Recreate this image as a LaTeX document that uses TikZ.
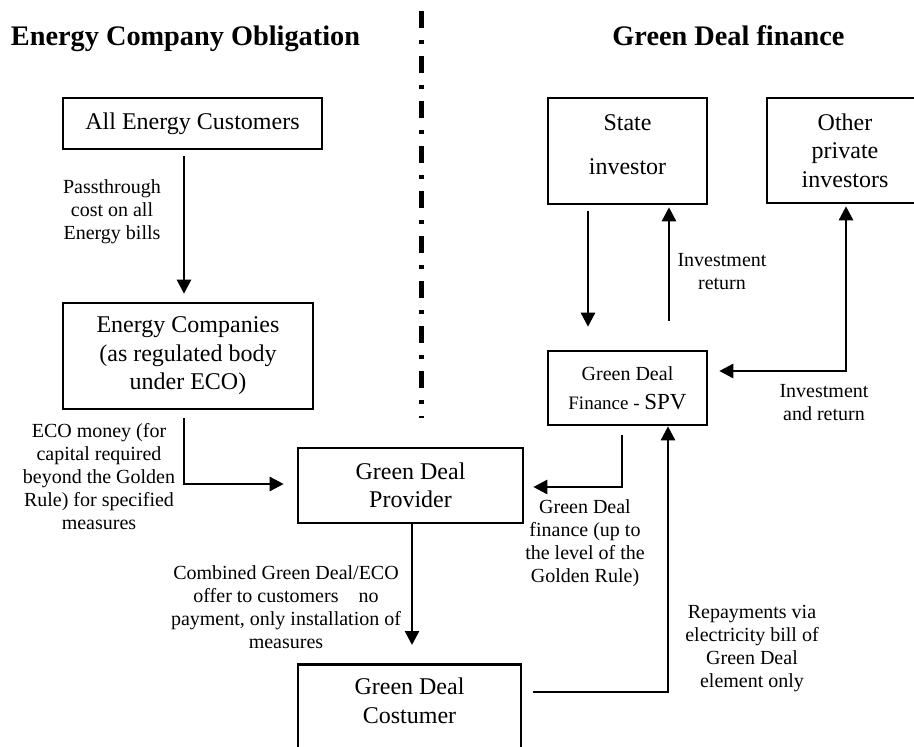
\documentclass[tikz,border=0pt]{standalone}
\usepackage{fontspec}
\setmainfont{Liberation Serif}
\usetikzlibrary{arrows.meta}
\begin{document}
\begin{tikzpicture}[x=1pt,y=-1pt,
  mytip/.tip={Triangle[length=14pt,width=14pt]},
  box/.style={draw, line width=2.6pt, inner sep=0pt, align=center, font=\fontsize{24}{28.5}\selectfont},
  boxtext/.style={inner sep=0pt, align=center, font=\fontsize{24}{28.5}\selectfont},
  lbl/.style={align=center, inner sep=0pt, font=\fontsize{20}{23}\selectfont},
  ttl/.style={inner sep=0pt, anchor=base, font=\fontsize{28.3}{33}\selectfont\bfseries},
  arr/.style={line width=2.6pt, -mytip},
  darr/.style={line width=2.6pt, mytip-mytip},
  divider/.style={line width=5pt, dash pattern=on 17pt off 12pt on 4pt off 12pt}
]
\path[fill=white, use as bounding box] (0,0) rectangle (914,747);

% titles
\node[ttl] (t1) at (185.5,45) {Energy Company Obligation};
\node[ttl] (t2) at (728.5,45) {Green Deal finance};

% divider
\coordinate (divt) at (421,11);
\coordinate (divb) at (421,418);
\draw[divider] (divt) -- (divb);

% boxes
\node[box, minimum width=259pt, minimum height=51pt] (cust) at (192.5,123.5) {All Energy Customers};
\node[box, minimum width=250pt, minimum height=106pt] (ecomp) at (188,356) {Energy Companies\\(as regulated body\\under ECO)};
\node[box, minimum width=225pt, minimum height=75pt] (prov) at (410.5,485.5) {Green Deal\\Provider};
\node[box, minimum width=223pt, minimum height=100pt, anchor=north] (costu) at (409.5,663) {};
\node[boxtext] (costut) at (409.5,701) {Green Deal\\Costumer};
\node[box, minimum width=159pt, minimum height=106pt] (state) at (627.5,151) {};
\node[boxtext] (statet) at (627.5,145) {State\\[15.5pt]investor};
\node[box, minimum width=156pt, minimum height=105pt] (other) at (845,150.5) {Other\\private\\investors};
\node[box, minimum width=159pt, minimum height=74pt] (spv) at (627.5,388) {\fontsize{20}{27}\selectfont Green Deal\\\fontsize{19}{27}\selectfont Finance - {\fontsize{23}{27}\selectfont SPV}};

% labels
\node[lbl] (l1) at (112,212) {Passthrough\\cost on all\\Energy bills};
\node[lbl] (l2) at (99,476.5) {ECO money (for\\capital required\\beyond the Golden\\Rule) for specified\\measures};
\node[lbl] (l3) at (286,607.5) {Combined Green Deal/ECO\\offer to customers\hspace{1em}no\\payment, only installation of\\measures};
\node[lbl] (l4) at (722,272) {Investment\\return};
\node[lbl] (l5) at (824,402.5) {Investment\\and return};
\node[lbl] (l6) at (585,543) {Green Deal\\finance (up to\\the level of the\\Golden Rule)};
\node[lbl] (l7) at (752,649) {Repayments via\\electricity bill of\\Green Deal\\element only};

% connectors
\draw[arr, shorten <=6pt, shorten >=8pt] (cust.south -| 184,0) -- (ecomp.north -| 184,0);
\draw[arr, shorten <=8pt, shorten >=13pt] (ecomp.south -| 184,0) |- (prov.west |- 0,484);
\draw[arr, shorten >=18pt] (prov.south -| 412,0) -- (costu.north -| 412,0);
\draw[arr, shorten <=6pt, shorten >=23pt] (state.south -| 588,0) -- (spv.north -| 588,0);
\draw[arr, shorten <=29pt, shorten >=2pt] (spv.north -| 669,0) -- (state.south -| 669,0);
\draw[darr, shorten <=11pt, shorten >=2pt] (spv.east |- 0,371) -| (other.south -| 846,0);
\draw[arr, shorten <=9pt, shorten >=9pt] (spv.south -| 622,0) |- (prov.east |- 0,487);
\draw[arr, shorten <=11pt] (costu.east |- 0,692) -| (spv.south -| 668,0);
\end{tikzpicture}
\end{document}
